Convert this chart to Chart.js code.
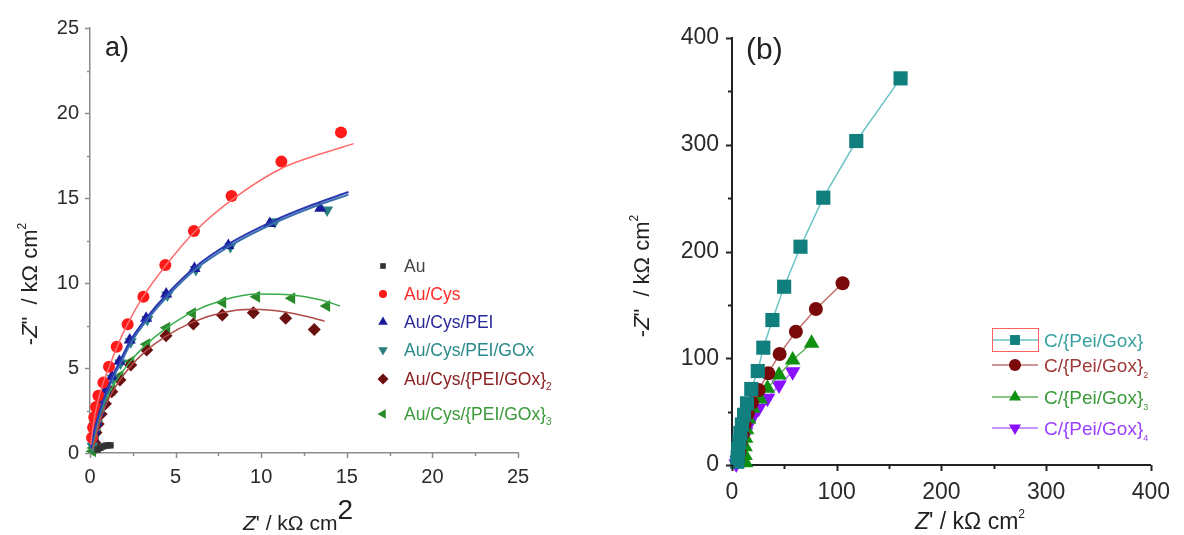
<!DOCTYPE html>
<html>
<head>
<meta charset="utf-8">
<script src="https://cdn.jsdelivr.net/npm/chart.js@4.4.0/dist/chart.umd.min.js"></script>
<style>
  html, body { margin: 0; padding: 0; background: #fff; }
  body { width: 1184px; height: 535px; position: relative; overflow: hidden; }
  .panel { position: absolute; top: 0; width: 592px; height: 535px; }
  #panelA { left: 0; }
  #panelB { left: 592px; }
</style>
</head>
<body>
<div class="panel" id="panelA"><canvas id="chartA"></canvas></div>
<div class="panel" id="panelB"><canvas id="chartB"></canvas></div>
<script>
// ---- panel a: Nyquist data (kOhm cm2) ----
const auX = [0.45, 0.6, 0.75, 0.9, 1.05, 1.2];
const auY = [0.2, 0.3, 0.38, 0.43, 0.45, 0.45];

const cysX = [0.12, 0.18, 0.25, 0.35, 0.49, 0.78, 1.11, 1.56, 2.2, 3.12, 4.4, 6.07, 8.27, 11.18, 14.66];
const cysY = [0.9, 1.5, 2.1, 2.7, 3.37, 4.14, 5.08, 6.25, 7.57, 9.19, 11.06, 13.06, 15.12, 17.14, 18.86];
const cysFitX = [0.05, 0.15, 0.3, 0.5, 0.8, 1.1, 1.6, 2.2, 3.1, 4.4, 6.1, 8.3, 11.2, 13.5, 15.4];
const cysFitY = [0.5, 1.4, 2.3, 3.2, 4.2, 5.0, 6.3, 7.6, 9.2, 11.0, 13.0, 14.9, 16.75, 17.6, 18.2];

const peiX = [0.2, 0.28, 0.38, 0.52, 0.7, 0.95, 1.28, 1.72, 2.32, 3.28, 4.45, 6.1, 8.08, 10.5, 13.45];
const peiY = [0.9, 1.3, 1.8, 2.4, 3.0, 3.7, 4.5, 5.4, 6.65, 7.92, 9.35, 10.85, 12.2, 13.5, 14.4];
const peiFitX = [0.05, 0.2, 0.4, 0.7, 1.0, 1.3, 1.75, 2.35, 3.3, 4.5, 6.1, 8.1, 10.6, 13.0, 15.1];
const peiFitY = [0.3, 1.1, 1.9, 2.9, 3.7, 4.5, 5.4, 6.6, 7.95, 9.35, 10.9, 12.3, 13.6, 14.6, 15.35];

const goxX = [0.15, 0.22, 0.3, 0.4, 0.55, 0.74, 0.99, 1.33, 1.78, 2.38, 3.35, 4.52, 6.18, 8.2, 10.8, 13.85];
const goxY = [0.4, 0.8, 1.2, 1.7, 2.3, 2.9, 3.6, 4.4, 5.3, 6.55, 7.85, 9.3, 10.8, 12.15, 13.6, 14.3];
const goxFitX = [0.05, 0.22, 0.42, 0.72, 1.02, 1.33, 1.8, 2.4, 3.35, 4.55, 6.15, 8.2, 10.7, 13.1, 15.1];
const goxFitY = [0.25, 1.0, 1.8, 2.8, 3.6, 4.4, 5.3, 6.5, 7.85, 9.25, 10.8, 12.2, 13.5, 14.5, 15.2];

const gox2X = [0.28, 0.35, 0.48, 0.65, 0.9, 1.27, 1.75, 2.38, 3.31, 4.44, 6.04, 7.73, 9.54, 11.43, 13.1];
const gox2Y = [0.6, 1.2, 1.7, 2.3, 2.9, 3.6, 4.29, 5.18, 6.06, 6.9, 7.59, 8.12, 8.25, 7.92, 7.27];
const gox2FitX = [0.15, 0.35, 0.65, 1.0, 1.5, 2.2, 3.2, 4.4, 6.0, 7.7, 9.5, 11.4, 12.8, 13.7];
const gox2FitY = [0.2, 1.0, 2.1, 3.0, 3.9, 4.9, 5.95, 6.85, 7.7, 8.25, 8.45, 8.3, 8.0, 7.75];

const gox3X = [0.15, 0.2, 0.25, 0.3, 0.38, 0.5, 0.65, 0.9, 1.27, 1.75, 2.38, 3.31, 4.48, 5.98, 7.75, 9.73, 11.78, 13.82];
const gox3Y = [0.1, 0.3, 0.5, 1.0, 1.5, 2.0, 2.5, 3.05, 3.71, 4.53, 5.37, 6.39, 7.37, 8.22, 8.86, 9.19, 9.1, 8.65];
const gox3FitX = [0.1, 0.3, 0.6, 1.0, 1.5, 2.2, 3.2, 4.4, 6.0, 7.8, 9.8, 11.8, 13.5, 14.6];
const gox3FitY = [0.2, 1.0, 2.3, 3.3, 4.2, 5.2, 6.3, 7.3, 8.3, 9.0, 9.35, 9.3, 9.0, 8.65];

const aTicks = [0, 5, 10, 15, 20, 25];
const aMinor = [2.5, 7.5, 12.5, 17.5, 22.5];

// ---- panel b: carbon electrodes ----
const layer1X = [5, 5.5, 6, 7, 8, 9.5, 11.5, 14.3, 18.4, 24.6, 29.9, 38.6, 49.8, 65.4, 87.2, 118.7, 161];
const layer1Y = [3, 8, 15, 22, 30, 38, 47, 57.8, 71.2, 88, 109.9, 135.8, 167, 204.5, 250.4, 303.5, 362.2];

const layer2X = [6, 7, 8, 10, 12, 15, 19, 25.5, 34.6, 45.5, 61, 80.1, 105.6];
const layer2Y = [5, 12, 20, 29, 38, 48, 58.4, 70.3, 85.9, 104, 124.9, 146.1, 170.2];

const layer3X = [13, 12.5, 12.5, 13, 14, 16, 19.9, 26.8, 33.9, 44.9, 57.9, 76];
const layer3Y = [2, 9, 17, 25, 33, 43, 53.1, 61.8, 71.8, 84.3, 98.4, 114];

const layer4X = [4, 5, 6, 7.5, 9, 11, 13, 16, 19.9, 25.5, 33.9, 44.9, 57.9];
const layer4Y = [1, 4, 8, 13, 19, 25, 31, 38, 45.2, 53.1, 62.5, 74.9, 87.4];

const bTicks = [0, 100, 200, 300, 400];
const bMinor = [50, 150, 250, 350];

const FONT = '"Liberation Sans", Arial, sans-serif';
const INK = '#222';

const pairs = (xs, ys) => xs.map((x, i) => ({ x: x, y: ys[i] }));

const markers = (label, xs, ys, color, style, radius, rotation) => ({
  label: label,
  data: pairs(xs, ys),
  showLine: false,
  pointStyle: style,
  pointRotation: rotation || 0,
  pointRadius: radius,
  backgroundColor: color,
  borderColor: color,
  pointBorderWidth: 0,
  clip: false
});

const fitLine = (xs, ys, color, width) => ({
  data: pairs(xs, ys),
  showLine: true,
  pointRadius: 0,
  borderColor: color,
  borderWidth: width,
  cubicInterpolationMode: 'monotone',
  tension: 0.4,
  clip: false
});

const linked = (label, xs, ys, color, lineColor, style, radius, rotation) => ({
  label: label,
  data: pairs(xs, ys),
  showLine: true,
  borderColor: lineColor,
  borderWidth: 1.5,
  pointStyle: style,
  pointRotation: rotation || 0,
  pointRadius: radius,
  pointBackgroundColor: color,
  pointBorderColor: color,
  pointBorderWidth: 0,
  clip: false
});

// draw a run of text pieces (italic, superscript, subscript) one after another
function drawRich(ctx, parts, x, y, align, rotate) {
  ctx.save();
  ctx.translate(x, y);
  if (rotate) ctx.rotate(-Math.PI / 2);
  let total = 0;
  parts.forEach(p => {
    ctx.font = (p.italic ? 'italic ' : '') + p.size + 'px ' + FONT;
    p.w = ctx.measureText(p.text).width + (p.gap || 0);
    total += p.w;
  });
  let cx = align === 'center' ? -total / 2 : 0;
  ctx.textBaseline = 'alphabetic';
  ctx.textAlign = 'left';
  parts.forEach(p => {
    ctx.font = (p.italic ? 'italic ' : '') + p.size + 'px ' + FONT;
    ctx.fillStyle = p.color || INK;
    ctx.fillText(p.text, cx, p.dy || 0);
    cx += p.w;
  });
  ctx.restore();
}

function drawMarker(ctx, style, color, radius, rotation, x, y) {
  ctx.save();
  ctx.fillStyle = color;
  ctx.strokeStyle = color;
  Chart.helpers.drawPoint(ctx, { pointStyle: style, radius: radius, rotation: rotation || 0, borderWidth: 0 }, x, y);
  ctx.restore();
}

// outward tick marks, major and minor, placed with the chart's own scales
const tickMarks = {
  id: 'tickMarks',
  afterDraw(chart, args, opts) {
    const { ctx, chartArea, scales } = chart;
    ctx.save();
    ctx.strokeStyle = opts.color;
    ctx.lineWidth = opts.width;
    const xs = scales.x, ys = scales.y;
    const hTick = (v, len) => {
      const px = Math.round(xs.getPixelForValue(v)) + 0.5;
      ctx.beginPath();
      ctx.moveTo(px, chartArea.bottom);
      ctx.lineTo(px, chartArea.bottom + len);
      ctx.stroke();
    };
    const vTick = (v, len) => {
      const py = Math.round(ys.getPixelForValue(v)) + 0.5;
      ctx.beginPath();
      ctx.moveTo(chartArea.left, py);
      ctx.lineTo(chartArea.left - len, py);
      ctx.stroke();
    };
    opts.xMajor.forEach(v => hTick(v, opts.majorLen));
    opts.xMinor.forEach(v => hTick(v, opts.minorLen));
    opts.yMajor.forEach(v => vTick(v, opts.majorLen));
    opts.yMinor.forEach(v => vTick(v, opts.minorLen));
    ctx.restore();
  }
};

// axis titles, panel letter and legend
const decorations = {
  id: 'decorations',
  afterDraw(chart, args, opts) {
    const ctx = chart.ctx;
    opts.texts.forEach(t => drawRich(ctx, t.parts, t.x, t.y, t.align, t.rotate));
    const lg = opts.legend;
    lg.items.forEach((it, i) => {
      const y = lg.rows[i];
      if (lg.lineFrom !== undefined) {
        ctx.save();
        ctx.strokeStyle = it.line;
        ctx.lineWidth = 1.5;
        ctx.beginPath();
        ctx.moveTo(lg.lineFrom, y);
        ctx.lineTo(lg.lineTo, y);
        ctx.stroke();
        ctx.restore();
      }
      drawMarker(ctx, it.style, it.color, it.radius, it.rotation, lg.markerX, y);
      const parts = [{ text: it.text, size: lg.size, color: it.textColor }];
      if (it.sub) parts.push({ text: it.sub, size: lg.subSize, color: it.textColor, dy: lg.subDrop });
      drawRich(ctx, parts, lg.textX, y + lg.size * 0.36, 'left', false);
    });
    if (lg.box) {
      ctx.save();
      ctx.strokeStyle = lg.box.color;
      ctx.lineWidth = 1;
      ctx.strokeRect(lg.box.x, lg.box.y, lg.box.w, lg.box.h);
      ctx.restore();
    }
  }
};

const axisScale = (min, max, ticks, size, axisColor, axisWidth, pad, fit) => ({
  type: 'linear',
  min: min,
  max: max,
  grid: { display: false, drawTicks: false },
  border: { display: true, color: axisColor, width: axisWidth },
  afterBuildTicks: s => { s.ticks = ticks.map(v => ({ value: v })); },
  afterFit: fit,
  ticks: {
    padding: pad,
    color: '#2a2a2a',
    font: { family: FONT, size: size },
    callback: v => String(v)
  }
});

const baseOptions = () => ({
  responsive: true,
  maintainAspectRatio: false,
  animation: false,
  devicePixelRatio: 1,
  events: [],
  plugins: { legend: { display: false }, tooltip: { enabled: false } }
});

// y title: -Z" / kOhm cm2, written bottom to top
const zImagTitle = (size) => [
  { text: '-', size: size },
  { text: 'Z', size: size, italic: true },
  { text: '"', size: size, gap: 12 },
  { text: '/ k\u03A9 cm', size: size },
  { text: '2', size: Math.round(size * 0.55), dy: -size * 0.5 }
];

// x title: Z' / kOhm cm2
const zRealTitle = (size, supSize, supRise) => [
  { text: 'Z', size: size, italic: true },
  { text: '\' / k\u03A9 cm', size: size },
  { text: '2', size: supSize, dy: -supRise }
];

// ---- chart a ----
const optsA = baseOptions();
optsA.layout = { padding: { top: 28, right: 74, left: 0, bottom: 0 } };
optsA.scales = {
  x: axisScale(0, 25, aTicks, 20, '#8c8c8c', 1.5, 12, s => { s.height = 82; }),
  y: axisScale(0, 25, aTicks, 20, '#8c8c8c', 1.5, 11, s => { s.width = 90; })
};
optsA.plugins.tickMarks = {
  color: '#8c8c8c', width: 1.5, majorLen: 5, minorLen: 3,
  xMajor: aTicks, xMinor: aMinor, yMajor: aTicks, yMinor: aMinor
};
optsA.plugins.decorations = {
  texts: [
    { x: 105, y: 56, align: 'left', parts: [{ text: 'a)', size: 27 }] },
    { x: 298, y: 530, align: 'center', parts: zRealTitle(21, 28, 11) },
    { x: 37, y: 284, align: 'center', rotate: true, parts: zImagTitle(22) }
  ],
  legend: {
    markerX: 383, textX: 404, size: 17.5, subSize: 10, subDrop: 5,
    rows: [266, 294, 322, 350, 379, 414],
    items: [
      { text: 'Au', style: 'rect', color: '#333', radius: 4, textColor: '#444' },
      { text: 'Au/Cys', style: 'circle', color: '#ff1a1a', radius: 4, textColor: '#ff2a2a' },
      { text: 'Au/Cys/PEI', style: 'triangle', color: '#1a1a9a', radius: 5.5, textColor: '#2a2a9a' },
      { text: 'Au/Cys/PEI/GOx', style: 'triangle', rotation: 180, color: '#2a8080', radius: 5.5, textColor: '#2a8a8a' },
      { text: 'Au/Cys/{PEI/GOx}', sub: '2', style: 'rectRot', color: '#6b0f0f', radius: 5.5, textColor: '#8a2020' },
      { text: 'Au/Cys/{PEI/GOx}', sub: '3', style: 'triangle', rotation: 270, color: '#2a8a2a', radius: 5.5, textColor: '#3a9a3a' }
    ]
  }
};

new Chart(document.getElementById('chartA'), {
  type: 'scatter',
  data: {
    datasets: [
      fitLine(cysFitX, cysFitY, '#ff6a6a', 1.5),
      fitLine(peiFitX, peiFitY, '#2a3ab0', 2),
      fitLine(goxFitX, goxFitY, '#3a70b0', 2),
      fitLine(gox2FitX, gox2FitY, '#b04a4a', 1.5),
      fitLine(gox3FitX, gox3FitY, '#3aaa4a', 1.5),
      markers('Au', auX, auY, '#333', 'rect', 4.5),
      markers('Au/Cys', cysX, cysY, '#ff1a1a', 'circle', 6),
      markers('Au/Cys/PEI', peiX, peiY, '#1a1a9a', 'triangle', 7),
      markers('Au/Cys/PEI/GOx', goxX, goxY, '#2a8080', 'triangle', 7, 180),
      markers('Au/Cys/{PEI/GOx}2', gox2X, gox2Y, '#6b0f0f', 'rectRot', 6.5),
      markers('Au/Cys/{PEI/GOx}3', gox3X, gox3Y, '#2a8a2a', 'triangle', 7, 270)
    ]
  },
  options: optsA,
  plugins: [tickMarks, decorations]
});

// ---- chart b ----
const optsB = baseOptions();
optsB.layout = { padding: { top: 38, right: 24, left: 0, bottom: 0 } };
optsB.scales = {
  x: axisScale(0, 400, bTicks, 23, '#222', 2, 14, s => { s.height = 70; }),
  y: axisScale(0, 400, bTicks, 23, '#222', 2, 13, s => { s.width = 140; })
};
optsB.plugins.tickMarks = {
  color: '#222', width: 2, majorLen: 6, minorLen: 4,
  xMajor: bTicks, xMinor: bMinor, yMajor: bTicks, yMinor: bMinor
};
optsB.plugins.decorations = {
  texts: [
    { x: 154, y: 59, align: 'left', parts: [{ text: '(b)', size: 30 }] },
    { x: 378, y: 529, align: 'center', parts: zRealTitle(23, 12, 11) },
    { x: 57, y: 276, align: 'center', rotate: true, parts: zImagTitle(22) }
  ],
  legend: {
    markerX: 423, textX: 452, size: 19, subSize: 9, subDrop: 6,
    lineFrom: 400, lineTo: 446,
    rows: [340, 365, 397, 428],
    box: { x: 400.5, y: 328.5, w: 46, h: 23, color: '#ff6060' },
    items: [
      { text: 'C/{Pei/Gox}', style: 'rect', color: '#127f7f', line: '#6cc4c4', radius: 7, textColor: '#3aa0a0' },
      { text: 'C/{Pei/Gox}', sub: '2', style: 'circle', color: '#7a0a0a', line: '#c07070', radius: 6, textColor: '#a03a3a' },
      { text: 'C/{Pei/Gox}', sub: '3', style: 'triangle', color: '#109010', line: '#60b060', radius: 7, textColor: '#3a9a3a' },
      { text: 'C/{Pei/Gox}', sub: '4', style: 'triangle', rotation: 180, color: '#8a10ff', line: '#b070ff', radius: 7, textColor: '#9a40ff' }
    ]
  }
};

new Chart(document.getElementById('chartB'), {
  type: 'scatter',
  data: {
    datasets: [
      linked('C/{Pei/Gox}', layer1X, layer1Y, '#127f7f', '#6cc4c4', 'rect', 10),
      linked('C/{Pei/Gox}2', layer2X, layer2Y, '#7a0a0a', '#c07070', 'circle', 7),
      linked('C/{Pei/Gox}3', layer3X, layer3Y, '#109010', '#60b060', 'triangle', 9),
      linked('C/{Pei/Gox}4', layer4X, layer4Y, '#8a10ff', '#b070ff', 'triangle', 9, 180)
    ]
  },
  options: optsB,
  plugins: [tickMarks, decorations]
});
</script>
</body>
</html>
